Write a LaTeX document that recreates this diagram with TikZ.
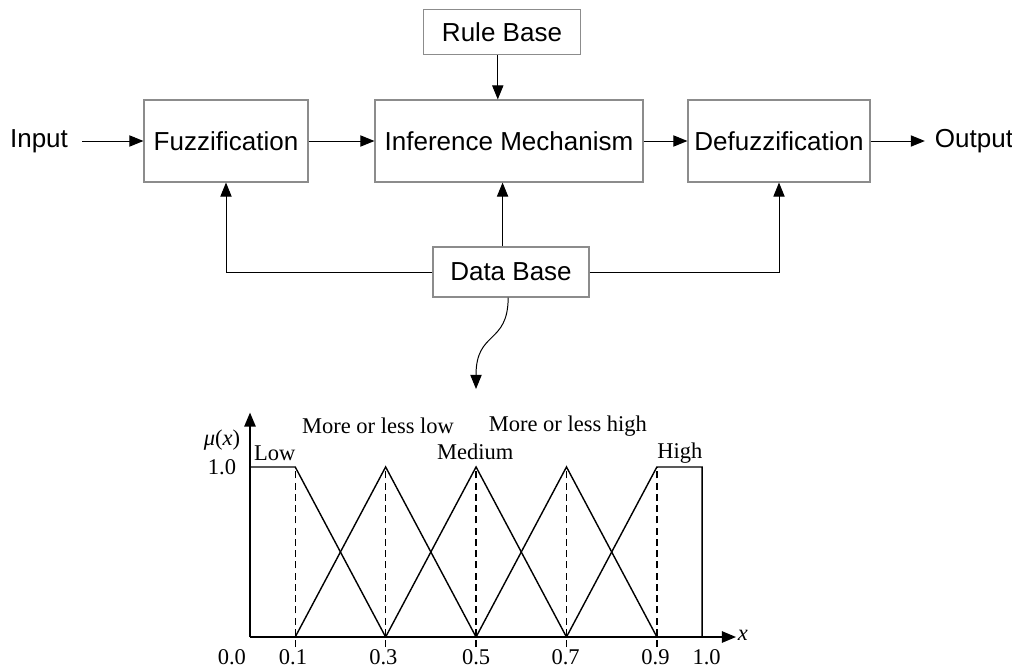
\documentclass[tikz,border=0pt]{standalone}
\usepackage{fontspec}
\setmainfont{Liberation Serif}
\setsansfont{Liberation Sans}
\usetikzlibrary{arrows.meta}

\tikzset{
  block/.style={draw=black!45,line width=0.8pt,fill=white,font=\sffamily\fontsize{18.5}{20}\selectfont,inner sep=0pt},
  lbl/.style={font=\sffamily\fontsize{18.5}{20}\selectfont,inner ysep=0pt,inner xsep=7pt},
  flow/.style={draw=black,line width=0.7pt,-{Triangle[length=10pt,width=8pt]}},
  plt/.style={font=\fontsize{16}{18}\selectfont,inner sep=0pt},
  curve/.style={line width=1pt}
}

\begin{document}
\begin{tikzpicture}[x=0.025cm,y=-0.025cm]
        \useasboundingbox (0,0) rectangle (1012,669);
        \begin{scope}[every node/.style={block}]
          \node[minimum width=3.925cm,minimum height=1.125cm] (rb) at (502,32) {Rule Base};
          \node[minimum width=4.1cm,minimum height=2.05cm] (fz) at (226,141) {Fuzzification};
          \node[minimum width=6.7cm,minimum height=2.05cm] (im) at (509,141) {Inference Mechanism};
          \node[minimum width=4.55cm,minimum height=2.05cm] (dz) at (779,141) {Defuzzification};
          \node[minimum width=3.9cm,minimum height=1.25cm] (db) at (511,272) {Data Base};
        \end{scope}
        \node[lbl,inner xsep=10pt] (in) at (39,141) {Input};
        \node[lbl] (out) at (974,141) {Output};
        \coordinate (dbout) at (476,389);

        \begin{scope}[every edge/.style={flow}]
          \path (in) edge (fz);
          \path (fz) edge (im);
          \path (im) edge (dz);
          \path (dz) edge (out);
          \path ([xshift=-3pt]rb.south) edge ([xshift=-3pt]rb.south |- im.north);
          \path ([xshift=-6pt]db.north) edge ([xshift=-6pt]db.north |- im.south);
        \end{scope}
        \draw[flow] (db.west) -| (fz.south);
        \draw[flow] (db.east) -| (dz.south);
        \draw[flow] ([xshift=-2pt]db.south) .. controls (508,345) and (476,330) .. (dbout);

        % membership functions
        \begin{scope}[shift={(250,637)},x=11.3cm,y=4.25cm]
          \draw[line width=1.3pt,-{Triangle[length=10pt,width=8pt]}] (0,0) -- (1.075,0);
          \draw[line width=1.3pt,-{Triangle[length=10pt,width=8pt]}] (0,0) -- (0,1.32);
          \foreach \t in {0.1,0.3,0.5,0.7,0.9}
            \draw[line width=1pt,dash pattern=on 5pt off 3pt] (\t,-0.06) -- (\t,1);
          \draw[curve] (0,1) -- (0.1,1) -- (0.3,0);
          \draw[curve] (0.1,0) -- (0.3,1) -- (0.5,0);
          \draw[curve] (0.3,0) -- (0.5,1) -- (0.7,0);
          \draw[curve] (0.5,0) -- (0.7,1) -- (0.9,0);
          \draw[curve] (0.7,0) -- (0.9,1) -- (1,1) -- (1,0);
          \node[plt] (mu) at (-0.062,1.16) {\textit{μ}(\textit{x})};
          \node[plt] (one) at (-0.062,1) {1.0};
          \node[plt] (low) at (0.055,1.08) {Low};
          \node[plt] (mll) at (0.283,1.24) {More or less low};
          \node[plt] (mlh) at (0.703,1.24) {More or less high};
          \node[plt] (med) at (0.498,1.09) {Medium};
          \node[plt] (high) at (0.951,1.08) {High};
          \node[plt] (xl) at (1.09,0.01) {\textit{x}};
          \foreach \t/\p in {0.0/-0.04,0.1/0.095,0.3/0.295,0.5/0.5,0.7/0.698,0.9/0.897,1.0/1.01}
            \node[plt] at (\p,-0.118) {\t};
        \end{scope}
\end{tikzpicture}
\end{document}
